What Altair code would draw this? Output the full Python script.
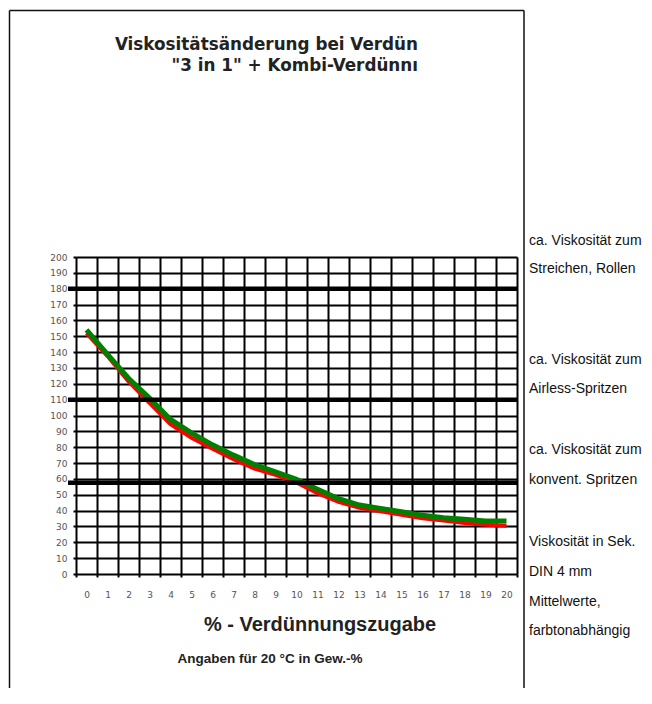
import altair as alt
import pandas as pd

# ---------------- data ----------------
pct = list(range(21))
green_vals = [154, 138.5, 123.5, 111, 97.5, 89, 81.5, 75, 69, 64.5, 59.7,
              53.5, 47.5, 43.5, 41.4, 39.3, 37, 35.5, 34.5, 33.5, 33.4]
red_vals = [152, 137.5, 121.5, 108, 94.5, 86, 79, 72.5, 66.5, 62.5, 57.8,
            51, 45.5, 41.8, 39.5, 37.3, 35.2, 33.8, 32.2, 31, 30.4]
levels = [180, 110, 57.5]
y_ticks = list(range(0, 201, 10))
x_cells = [v - 0.5 for v in range(22)]

title_lines = ["Viskositätsänderung bei Verdün", "\"3 in 1\" + Kombi-Verdünnı"]
side_lines = ["ca. Viskosität zum", "Streichen, Rollen",
              "ca. Viskosität zum", "Airless-Spritzen",
              "ca. Viskosität zum", "konvent. Spritzen",
              "Viskosität in Sek.", "DIN 4 mm", "Mittelwerte,", "farbtonabhängig"]
x_title = "% - Verdünnungszugabe"
note = "Angaben für 20 °C in Gew.-%"

# ---------------- layout (pixels, relative to plot area) ----------------
W, H = 441, 317
side_y = [-12, 16, 107, 136, 197, 227, 289, 319, 348.5, 378]
title_y = [-207, -186.5]

curves = pd.DataFrame({"pct": pct, "gruen": green_vals, "rot": red_vals})
lev = pd.DataFrame({"lvl": levels})
one = pd.DataFrame({"a": [0]})

xscale = alt.Scale(domain=[-0.5, 20.5], nice=False, zero=False)
yscale = alt.Scale(domain=[0, 200], nice=False, zero=False)

xaxis = alt.Axis(values=x_cells, grid=True, gridColor="black", gridWidth=2,
                 ticks=True, tickColor="black", tickSize=3, tickWidth=2,
                 domain=False, title=None,
                 labelExpr="datum.value > 20 ? '' : format(datum.value + 0.5, 'd')",
                 labelOffset=10.5, labelFont="DejaVu Sans", labelFontSize=9,
                 labelColor="#555", labelPadding=13, labelFlush=False,
                 labelOverlap=False)
yaxis = alt.Axis(values=y_ticks, grid=True, gridColor="black", gridWidth=2,
                 ticks=True, tickColor="black", tickSize=3, tickWidth=2,
                 domain=False, title=None, labelFont="DejaVu Sans",
                 labelFontSize=9, labelColor="#555", labelPadding=6,
                 labelFlush=False, labelOverlap=False)

base = alt.Chart(curves)

red_line = base.mark_line(color="#ff0000", strokeWidth=4).encode(
    x=alt.X("pct:Q", scale=xscale, axis=xaxis),
    y=alt.Y("rot:Q", scale=yscale, axis=yaxis),
)
green_line = base.mark_line(color="#008000", strokeWidth=5).encode(
    x=alt.X("pct:Q", scale=xscale, axis=xaxis),
    y=alt.Y("gruen:Q", scale=yscale, axis=yaxis),
)
level_rules = alt.Chart(lev).mark_rule(color="black", strokeWidth=4.5).encode(
    y=alt.Y("lvl:Q", scale=yscale, axis=yaxis),
    x=alt.value(-8),
    x2=alt.value(442),
)

layers = [red_line, green_line, level_rules]

# frame
frame_col = "#111"
layers.append(alt.Chart(one).mark_rule(color=frame_col, strokeWidth=1.5).encode(
    x=alt.value(-66.5), y=alt.value(-246.5), y2=alt.value(440)))
layers.append(alt.Chart(one).mark_rule(color=frame_col, strokeWidth=1.5).encode(
    x=alt.value(448), y=alt.value(-246.5), y2=alt.value(440)))
layers.append(alt.Chart(one).mark_rule(color=frame_col, strokeWidth=1.5).encode(
    x=alt.value(-66.5), x2=alt.value(448), y=alt.value(-246.5)))

# title lines
for txt, yy in zip(title_lines, title_y):
    layers.append(alt.Chart(one).mark_text(
        text=txt, align="right", baseline="alphabetic", font="DejaVu Sans",
        fontWeight="bold", fontSize=16.8, color="#222").encode(
        x=alt.value(342), y=alt.value(yy)))

# x title and note
layers.append(alt.Chart(one).mark_text(
    text=x_title, align="center", baseline="alphabetic", font="Liberation Sans",
    fontWeight="bold", fontSize=20, color="#222").encode(
    x=alt.value(244), y=alt.value(374)))
layers.append(alt.Chart(one).mark_text(
    text=note, align="center", baseline="alphabetic", font="Liberation Sans",
    fontWeight="bold", fontSize=13.5, color="#222").encode(
    x=alt.value(194), y=alt.value(405.5)))

# side notes
for txt, yy in zip(side_lines, side_y):
    layers.append(alt.Chart(one).mark_text(
        text=txt, align="left", baseline="alphabetic", font="Liberation Sans",
        fontSize=14, color="#111").encode(
        x=alt.value(453), y=alt.value(yy)))

chart = alt.layer(*layers).properties(
    width=W, height=H,
    autosize=alt.AutoSizeParams(type="none"),
    padding={"left": 68, "top": 249, "right": 127, "bottom": 114},
    background="white",
).configure_view(stroke=None)

chart.save("out.html", embed_options={"renderer": "svg", "actions": False})
